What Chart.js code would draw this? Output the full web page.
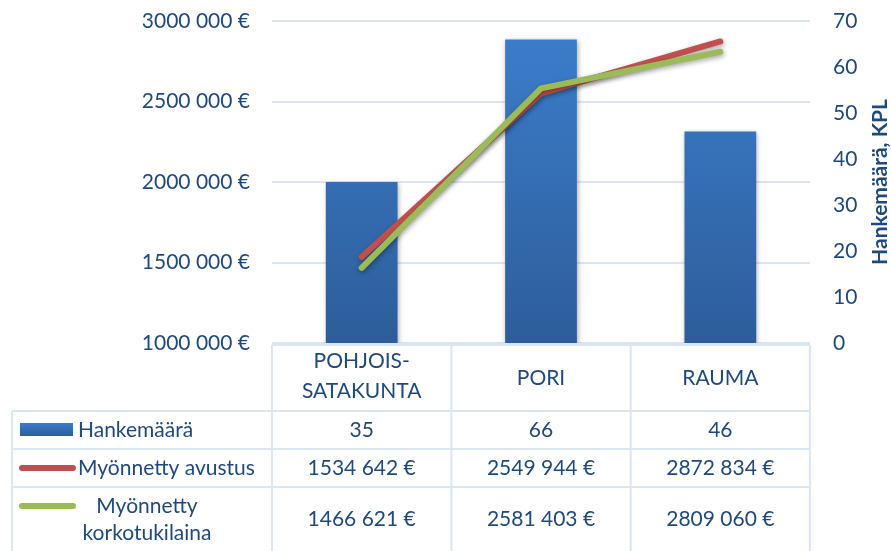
<!DOCTYPE html>
<html>
<head>
<meta charset="utf-8">
<script src="https://cdn.jsdelivr.net/npm/chart.js@4.4.1/dist/chart.umd.min.js"></script>
<style>
html,body{margin:0;padding:0;background:#fff;}
#wrap{width:891px;height:551px;position:relative;}
</style>
</head>
<body>
<div id="wrap"><canvas id="chart"></canvas></div>
<script>
// data
const alueet = [['POHJOIS-','SATAKUNTA'],'PORI','RAUMA'];
const hankemaara = [35,66,46];
const avustus = [1534642,2549944,2872834];
const korkotukilaina = [1466621,2581403,2809060];
const euroMin = 1000000, euroMax = 3000000, euroStep = 500000;
const kplMin = 0, kplMax = 70, kplStep = 10;

const textColor = '#1F497D';
const lineGrid = '#DCE6F2';
const fontName = 'Lato';

function euro(v){
  const k = Math.floor(v/1000);
  const r = String(v%1000).padStart(3,'0');
  return k+' '+r+' €';
}

function barFill(ctx){
  const area = ctx.chart.chartArea;
  if(!area) return '#3A76C0';
  const g = ctx.chart.ctx.createLinearGradient(0,area.top,0,area.bottom);
  g.addColorStop(0,'#3C7ECC');
  g.addColorStop(1,'#2D5D9A');
  return g;
}

const shadowPlugin = {
  id:'varjo',
  beforeDatasetDraw(chart,args){
    const c = chart.ctx;
    c.save();
    c.shadowColor = 'rgba(0,0,0,0.35)';
    c.shadowBlur = 5;
    c.shadowOffsetX = 1;
    c.shadowOffsetY = 2;
  },
  afterDatasetDraw(chart){
    chart.ctx.restore();
  }
};

const tablePlugin = {
  id:'taulukko',
  afterDraw(chart){
    const c = chart.ctx;
    const x = chart.scales.x;
    const area = chart.chartArea;
    const colW = x.getPixelForValue(1)-x.getPixelForValue(0);
    const left = area.left, right = area.right;
    const tabLeft = 12;
    const yHead = 345, yRow1 = 411, yRow2 = 449, yRow3 = 487, yEnd = 551;

    c.save();
    c.strokeStyle = lineGrid;
    c.lineWidth = 2;
    c.beginPath();
    c.moveTo(left,yHead); c.lineTo(right,yHead);
    [yRow1,yRow2,yRow3].forEach(y=>{c.moveTo(tabLeft,y); c.lineTo(right,y);});
    for(let i=0;i<=alueet.length;i++){
      const vx = left+i*colW;
      c.moveTo(vx,yHead); c.lineTo(vx,yEnd);
    }
    c.moveTo(tabLeft,yRow1); c.lineTo(tabLeft,yEnd);
    c.stroke();

    c.fillStyle = textColor;
    c.font = '21px '+fontName;
    c.textAlign = 'center';
    c.textBaseline = 'middle';

    // category header
    alueet.forEach((a,i)=>{
      const cx = x.getPixelForValue(i);
      if(Array.isArray(a)){
        c.fillText(a[0],cx,361);
        c.fillText(a[1],cx,391);
      } else {
        c.fillText(a,cx,378);
      }
    });

    // values
    hankemaara.forEach((v,i)=>c.fillText(String(v),x.getPixelForValue(i),430));
    avustus.forEach((v,i)=>c.fillText(euro(v),x.getPixelForValue(i),468));
    korkotukilaina.forEach((v,i)=>c.fillText(euro(v),x.getPixelForValue(i),519));

    // legend keys
    const g = c.createLinearGradient(0,423,0,436);
    g.addColorStop(0,'#3C7ECC'); g.addColorStop(1,'#2D5D9A');
    c.fillStyle = g;
    c.fillRect(20,423,53,13);
    c.lineCap = 'round';
    c.lineWidth = 6;
    c.strokeStyle = '#C0504D';
    c.beginPath(); c.moveTo(22,468); c.lineTo(73,468); c.stroke();
    c.strokeStyle = '#9BBB59';
    c.beginPath(); c.moveTo(22,506); c.lineTo(73,506); c.stroke();

    c.fillStyle = textColor;
    c.textAlign = 'left';
    c.fillText('Hankemäärä',78,430);
    c.fillText('Myönnetty avustus',78,468);
    c.textAlign = 'center';
    c.fillText('Myönnetty',147,506);
    c.fillText('korkotukilaina',147,533);

    // right axis title
    c.font = 'bold 21px '+fontName;
    c.translate(880,(area.top+area.bottom)/2);
    c.rotate(-Math.PI/2);
    c.fillText('Hankemäärä, KPL',0,0);
    c.restore();
  }
};

new Chart(document.getElementById('chart'),{
  data:{
    labels:alueet,
    datasets:[
      {
        type:'line',
        label:'Myönnetty korkotukilaina',
        data:korkotukilaina,
        yAxisID:'y',
        borderColor:'#9BBB59',
        borderWidth:6,
        borderCapStyle:'round',
        borderJoinStyle:'round',
        pointRadius:0,
        tension:0,
        order:0
      },
      {
        type:'line',
        label:'Myönnetty avustus',
        data:avustus,
        yAxisID:'y',
        borderColor:'#C0504D',
        borderWidth:6,
        borderCapStyle:'round',
        borderJoinStyle:'round',
        pointRadius:0,
        tension:0,
        order:1
      },
      {
        type:'bar',
        label:'Hankemäärä',
        data:hankemaara,
        yAxisID:'y1',
        backgroundColor:barFill,
        categoryPercentage:0.8,
        barPercentage:0.5,
        order:2
      }
    ]
  },
  options:{
    responsive:true,
    maintainAspectRatio:false,
    animation:false,
    layout:{padding:{top:21,bottom:208,left:0,right:0}},
    plugins:{legend:{display:false},tooltip:{enabled:false}},
    scales:{
      x:{display:false,offset:true},
      y:{
        position:'left',
        min:euroMin,max:euroMax,
        ticks:{stepSize:euroStep,color:textColor,font:{family:fontName,size:21},padding:22,callback:v=>euro(v)},
        grid:{color:lineGrid,lineWidth:2,drawTicks:false},
        border:{display:false},
        afterFit(s){s.width=272;s.paddingTop=0;s.paddingBottom=0;}
      },
      y1:{
        position:'right',
        min:kplMin,max:kplMax,
        ticks:{stepSize:kplStep,color:textColor,font:{family:fontName,size:21},padding:23},
        grid:{display:false,drawTicks:false},
        border:{display:false},
        afterFit(s){s.width=81;s.paddingTop=0;s.paddingBottom=0;}
      }
    }
  },
  plugins:[shadowPlugin,tablePlugin]
});
</script>
</body>
</html>
